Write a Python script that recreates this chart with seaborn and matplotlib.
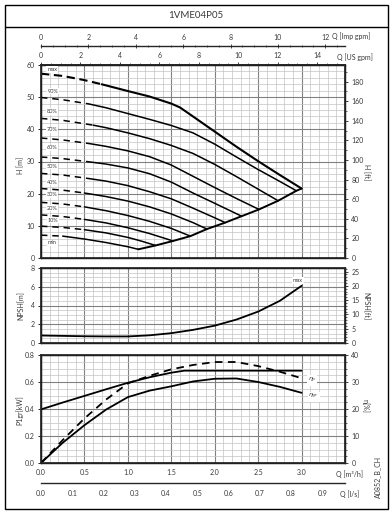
import matplotlib
matplotlib.use("Agg")
import matplotlib.pyplot as plt
import seaborn as sns
import pandas as pd
import numpy as np
from matplotlib.ticker import MultipleLocator, FixedLocator, FormatStrFormatter
from matplotlib.patches import Rectangle
from matplotlib.lines import Line2D

# ---------------- data ----------------
TITLE = "1VME04P05"
CURVE_LABELS = ["max", "90%", "80%", "70%", "60%", "50%", "40%", "30%", "20%", "10%", "min"]

Q_MAX = [0, 0.25, 0.5, 0.7, 1.0, 1.25, 1.5, 1.6, 1.75, 2.0, 2.25, 2.5, 2.75, 3.0]
H_MAX = [57.3, 56.6, 55.3, 54.0, 51.9, 50.2, 48.0, 46.8, 44.0, 39.3, 34.6, 30.1, 25.8, 21.6]
Q_90 = [0, 0.25, 0.55, 0.75, 1.0, 1.25, 1.5, 1.75, 2.0, 2.25, 2.5, 2.75, 2.94]
H_90 = [49.9, 49.2, 47.9, 46.7, 44.9, 43.1, 41.2, 38.9, 35.4, 31.4, 27.5, 23.8, 20.9]
Q_80 = [0, 0.25, 0.6, 0.75, 1.0, 1.25, 1.5, 1.75, 2.0, 2.25, 2.5, 2.73]
H_80 = [43.4, 42.8, 41.3, 40.5, 38.9, 37.1, 35.0, 32.5, 29.1, 25.3, 21.4, 17.8]
Q_70 = [0, 0.25, 0.55, 0.75, 1.0, 1.25, 1.5, 1.75, 2.0, 2.25, 2.51]
H_70 = [37.3, 36.7, 35.6, 34.7, 33.3, 31.5, 28.9, 25.4, 21.9, 18.5, 15.1]
Q_60 = [0, 0.25, 0.55, 0.75, 1.0, 1.25, 1.5, 1.75, 2.0, 2.31]
H_60 = [31.4, 30.9, 29.9, 29.2, 28.0, 26.2, 23.6, 20.2, 17.0, 13.0]
Q_50 = [0, 0.25, 0.55, 0.75, 1.0, 1.25, 1.5, 1.75, 2.0, 2.12]
H_50 = [26.3, 25.8, 24.7, 23.9, 22.5, 20.6, 18.4, 15.5, 12.5, 11.0]
Q_40 = [0, 0.25, 0.5, 0.75, 1.0, 1.25, 1.5, 1.75, 1.91]
H_40 = [21.6, 21.1, 20.2, 19.1, 17.7, 15.9, 13.7, 11.0, 9.0]
Q_30 = [0, 0.25, 0.5, 0.75, 1.0, 1.25, 1.5, 1.72]
H_30 = [17.3, 16.8, 15.9, 14.7, 13.2, 11.4, 9.2, 6.8]
Q_20 = [0, 0.25, 0.5, 0.75, 1.0, 1.25, 1.52]
H_20 = [13.4, 12.9, 12.0, 10.9, 9.4, 7.6, 5.3]
Q_10 = [0, 0.25, 0.5, 0.75, 1.0, 1.15, 1.32]
H_10 = [9.9, 9.5, 8.8, 7.8, 6.4, 5.3, 3.9]
Q_MIN = [0, 0.25, 0.5, 0.75, 1.0, 1.12]
H_MIN = [7.1, 6.8, 5.9, 4.8, 3.5, 2.7]
# flow where each curve turns from dashed to solid
SPLIT_Q = [0.7, 0.55, 0.6, 0.55, 0.55, 0.55, 0.5, 0.5, 0.5, 0.5, 0.25]

Q_ENV = [1.12, 1.32, 1.52, 1.72, 1.91, 2.12, 2.31, 2.51, 2.73, 2.94, 3.0]
H_ENV = [2.7, 3.9, 5.3, 6.8, 9.0, 11.0, 13.0, 15.1, 17.8, 20.9, 21.6]

Q_NPSH = [0, 0.25, 0.5, 0.75, 1.0, 1.25, 1.5, 1.75, 2.0, 2.25, 2.5, 2.75, 3.0]
NPSH = [0.8, 0.76, 0.72, 0.7, 0.7, 0.82, 1.05, 1.4, 1.85, 2.5, 3.35, 4.5, 6.1]

Q_P1 = [0, 0.25, 0.5, 0.75, 1.0, 1.25, 1.5, 1.65, 2.0, 2.5, 3.0]
P1 = [0.397, 0.448, 0.497, 0.546, 0.594, 0.635, 0.669, 0.684, 0.684, 0.684, 0.684]
Q_ETA = [0, 0.25, 0.5, 0.75, 1.0, 1.25, 1.5, 1.75, 2.0, 2.25, 2.5, 2.75, 3.0]
ETA_P = [0, 8.5, 16.5, 23.5, 29.5, 32.3, 34.7, 36.3, 37.4, 37.4, 35.9, 33.8, 31.4]
ETA_GR = [0, 7.5, 14.0, 19.8, 24.4, 26.8, 28.4, 30.2, 31.2, 31.3, 30.0, 28.2, 26.0]

Q_MAX_AXIS = 3.5
M_TO_FT = 3.28084
M3H_TO_USGPM = 4.40287
M3H_TO_IMPGPM = 3.66615
M3H_TO_LS = 1 / 3.6

# ---------------- style ----------------
sns.set_theme(style="white")
plt.rcParams['font.family'] = ['Lato', 'DejaVu Sans']
TXT = "#3a3a3a"
FS = 5
MAJ = "#808080"
MIN = "#c4c4c4"

W, H = 392, 512
fig = plt.figure(figsize=(W / 100, H / 100), dpi=100)
fig.patch.set_facecolor("white")


def fx(x):
    return x / W


def fy(y):
    return 1 - y / H


def axes_px(x0, y0, x1, y1):
    return fig.add_axes([fx(x0), fy(y1), (x1 - x0) / W, (y1 - y0) / H])


def style_panel(ax, ymaj, ymin, ylim):
    ax.set_xlim(0, Q_MAX_AXIS)
    ax.set_ylim(*ylim)
    ax.xaxis.set_major_locator(MultipleLocator(0.5))
    ax.xaxis.set_minor_locator(MultipleLocator(0.1))
    ax.yaxis.set_major_locator(MultipleLocator(ymaj))
    ax.yaxis.set_minor_locator(MultipleLocator(ymin))
    ax.grid(which="minor", color=MIN, lw=0.5)
    ax.grid(which="major", color=MAJ, lw=0.8)
    ax.set_axisbelow(True)
    for s in ax.spines.values():
        s.set_color("black")
        s.set_linewidth(1.0)
    ax.tick_params(axis="y", which="major", direction="out", length=2.5, width=0.6,
                   labelsize=FS, labelcolor=TXT, color="black", pad=2, left=True)
    ax.tick_params(axis="y", which="minor", length=0)
    ax.tick_params(axis="x", which="both", length=0, labelbottom=False)
    ax.set_xlabel("")
    ax.set_ylabel("")


def style_right(axr, lim, maj, mnr):
    axr.set_ylim(*lim)
    axr.yaxis.set_major_locator(MultipleLocator(maj))
    axr.yaxis.set_minor_locator(MultipleLocator(mnr))
    axr.tick_params(axis="y", which="major", direction="out", length=2.5, width=0.6,
                    labelsize=FS, labelcolor=TXT, pad=2, right=True)
    axr.tick_params(axis="y", which="minor", direction="out", length=1.5, width=0.5, right=True)
    axr.grid(False)
    axr.set_ylabel("")


def line(ax, q, v, lw=1.1, ls="-"):
    df = pd.DataFrame({"Q": q, "V": v})
    sns.lineplot(data=df, x="Q", y="V", ax=ax, color="black", lw=lw, linestyle=ls,
                 sort=False, estimator=None, legend=False)


# ---------------- H panel ----------------
ax_h = axes_px(41, 65, 345, 258)
curves = [(Q_MAX, H_MAX), (Q_90, H_90), (Q_80, H_80), (Q_70, H_70), (Q_60, H_60),
          (Q_50, H_50), (Q_40, H_40), (Q_30, H_30), (Q_20, H_20), (Q_10, H_10), (Q_MIN, H_MIN)]
for i, ((q, h), sq) in enumerate(zip(curves, SPLIT_Q)):
    k = q.index(sq)
    lw = 1.5 if i == 0 else 1.1
    dash = (0, (4.0, 2.2)) if i == 0 else (0, (4.2, 3.2))
    line(ax_h, q[:k + 1], h[:k + 1], lw=lw, ls=dash)
    line(ax_h, q[k:], h[k:], lw=lw)
line(ax_h, Q_ENV, H_ENV, lw=1.4)
style_panel(ax_h, 10, 2, (0, 60))

label_pos = [(0.13, 58.6), (0.14, 51.9), (0.13, 45.6), (0.13, 39.8), (0.13, 34.2), (0.13, 28.6),
             (0.13, 23.6), (0.13, 19.6), (0.13, 15.5), (0.14, 11.8), (0.13, 4.7)]
for lab, (x, y) in zip(CURVE_LABELS, label_pos):
    ax_h.text(x, y, lab, fontsize=4, color=TXT, ha="center", va="center",
              bbox=dict(fc="white", ec="none", pad=0.6))

axr_h = ax_h.twinx()
style_right(axr_h, (0, 60 * M_TO_FT), 20, 10)

sec = ax_h.secondary_xaxis("top", functions=(lambda q: q * M3H_TO_USGPM, lambda g: g / M3H_TO_USGPM))
sec.xaxis.set_major_locator(FixedLocator(np.arange(0, 15, 2)))
sec.xaxis.set_minor_locator(MultipleLocator(0.5))
sec.tick_params(which="major", direction="out", length=2.5, width=0.6, labelsize=FS, labelcolor=TXT, pad=1.5)
sec.tick_params(which="minor", direction="out", length=1.5, width=0.5)

# Imp gpm axis
ax_imp = axes_px(41, 46, 345, 46.01)
ax_imp.set_xlim(0, Q_MAX_AXIS * M3H_TO_IMPGPM)
for s in ["left", "right", "bottom"]:
    ax_imp.spines[s].set_visible(False)
ax_imp.spines["top"].set_linewidth(1.0)
ax_imp.set_facecolor("none")
ax_imp.yaxis.set_visible(False)
ax_imp.xaxis.tick_top()
ax_imp.xaxis.set_major_locator(FixedLocator(np.arange(0, 13, 2)))
ax_imp.xaxis.set_minor_locator(MultipleLocator(0.5))
ax_imp.tick_params(which="major", direction="inout", length=3, width=0.6, labelsize=FS, labelcolor=TXT, pad=2)
ax_imp.tick_params(which="minor", direction="inout", length=2, width=0.5)

# ---------------- NPSH panel ----------------
ax_n = axes_px(41, 268, 345, 343)
line(ax_n, Q_NPSH, NPSH, lw=1.3)
style_panel(ax_n, 2, 0.5, (0, 8))
ax_n.text(2.96, 6.65, "max", fontsize=4, color=TXT, ha="center", va="center",
          bbox=dict(fc="white", ec="none", pad=0.6))
axr_n = ax_n.twinx()
style_right(axr_n, (0, 8 * M_TO_FT), 5, 1)

# ---------------- Power / efficiency panel ----------------
ax_p = axes_px(41, 355, 345, 463)
line(ax_p, Q_P1, P1, lw=1.3)
style_panel(ax_p, 0.2, 0.05, (0, 0.8))
ax_p.yaxis.set_major_formatter(FormatStrFormatter("%.1f"))
ax_p.xaxis.set_major_locator(FixedLocator(np.arange(0, 3.01, 0.5)))
ax_p.tick_params(axis="x", which="major", labelbottom=True, labelsize=FS, labelcolor=TXT, pad=4)
ax_p.xaxis.set_major_formatter(FormatStrFormatter("%.1f"))
ax_p.xaxis.set_minor_locator(MultipleLocator(0.1))
ax_p.axvline(3.5, color=MAJ, lw=0.8, zorder=0)
axr_p = ax_p.twinx()
line(axr_p, Q_ETA, ETA_P, lw=1.3, ls=(0, (4.2, 3.0)))
line(axr_p, Q_ETA, ETA_GR, lw=1.3)
style_right(axr_p, (0, 40), 10, 2.5)
axr_p.set_xlabel("")
axr_p.text(3.12, 30.6, r"$\eta_{\mathrm{p}}$", fontsize=4.5, color=TXT, ha="center", va="center",
           bbox=dict(fc="white", ec="none", pad=0.4))
axr_p.text(3.14, 24.5, r"$\eta_{\mathrm{gr}}$", fontsize=4.5, color=TXT, ha="center", va="center",
           bbox=dict(fc="white", ec="none", pad=0.4))

# l/s axis
ax_ls = axes_px(41, 483, 345, 483.01)
ax_ls.set_xlim(0, Q_MAX_AXIS * M3H_TO_LS)
for s in ["left", "right", "top"]:
    ax_ls.spines[s].set_visible(False)
ax_ls.spines["bottom"].set_linewidth(1.0)
ax_ls.set_facecolor("none")
ax_ls.yaxis.set_visible(False)
ax_ls.xaxis.set_major_locator(FixedLocator(np.round(np.arange(0, 0.91, 0.1), 2)))
ax_ls.xaxis.set_minor_locator(MultipleLocator(0.02))
ax_ls.xaxis.set_major_formatter(FormatStrFormatter("%.1f"))
ax_ls.tick_params(which="major", direction="in", length=3, width=0.6, labelsize=FS, labelcolor=TXT, pad=5)
ax_ls.tick_params(which="minor", direction="in", length=2, width=0.5)

# ---------------- texts / frame ----------------
fig.add_artist(Rectangle((fx(5), fy(509)), (388 - 5) / W, (509 - 5) / H, transform=fig.transFigure,
                         fill=False, ec="black", lw=1.0))
fig.add_artist(Line2D([fx(5), fx(388)], [fy(27), fy(27)], transform=fig.transFigure, color="black", lw=1.0))
fig.text(fx(196), fy(16), TITLE, fontsize=7, color=TXT, ha="center", va="center")

fig.text(fx(351), fy(36), "Q [Imp gpm]", fontsize=FS, color=TXT, ha="center", va="center")
fig.text(fx(355), fy(57), "Q [US gpm]", fontsize=FS, color=TXT, ha="center", va="center")
fig.text(fx(349), fy(474), "Q [m³/h]", fontsize=FS, color=TXT, ha="center", va="center")
fig.text(fx(350), fy(494), "Q [l/s]", fontsize=FS, color=TXT, ha="center", va="center")

fig.text(fx(21), fy(165), "H [m]", fontsize=FS, color=TXT, ha="center", va="center", rotation=90)
fig.text(fx(366), fy(172), "H [ft]", fontsize=FS, color=TXT, ha="center", va="center", rotation=270)
fig.text(fx(21), fy(306), "NPSH[m]", fontsize=FS, color=TXT, ha="center", va="center", rotation=90)
fig.text(fx(366), fy(306), "NPSH[ft]", fontsize=FS, color=TXT, ha="center", va="center", rotation=270)
fig.text(fx(20), fy(410), "P1gr[kW]", fontsize=FS, color=TXT, ha="center", va="center", rotation=90)
fig.text(fx(366), fy(406), "η[%]", fontsize=FS, color=TXT, ha="center", va="center", rotation=270)
fig.text(fx(378), fy(477), "A0852_B_CH", fontsize=FS, color=TXT, ha="center", va="center", rotation=90)

fig.savefig("out.png", dpi=100, facecolor="white")
